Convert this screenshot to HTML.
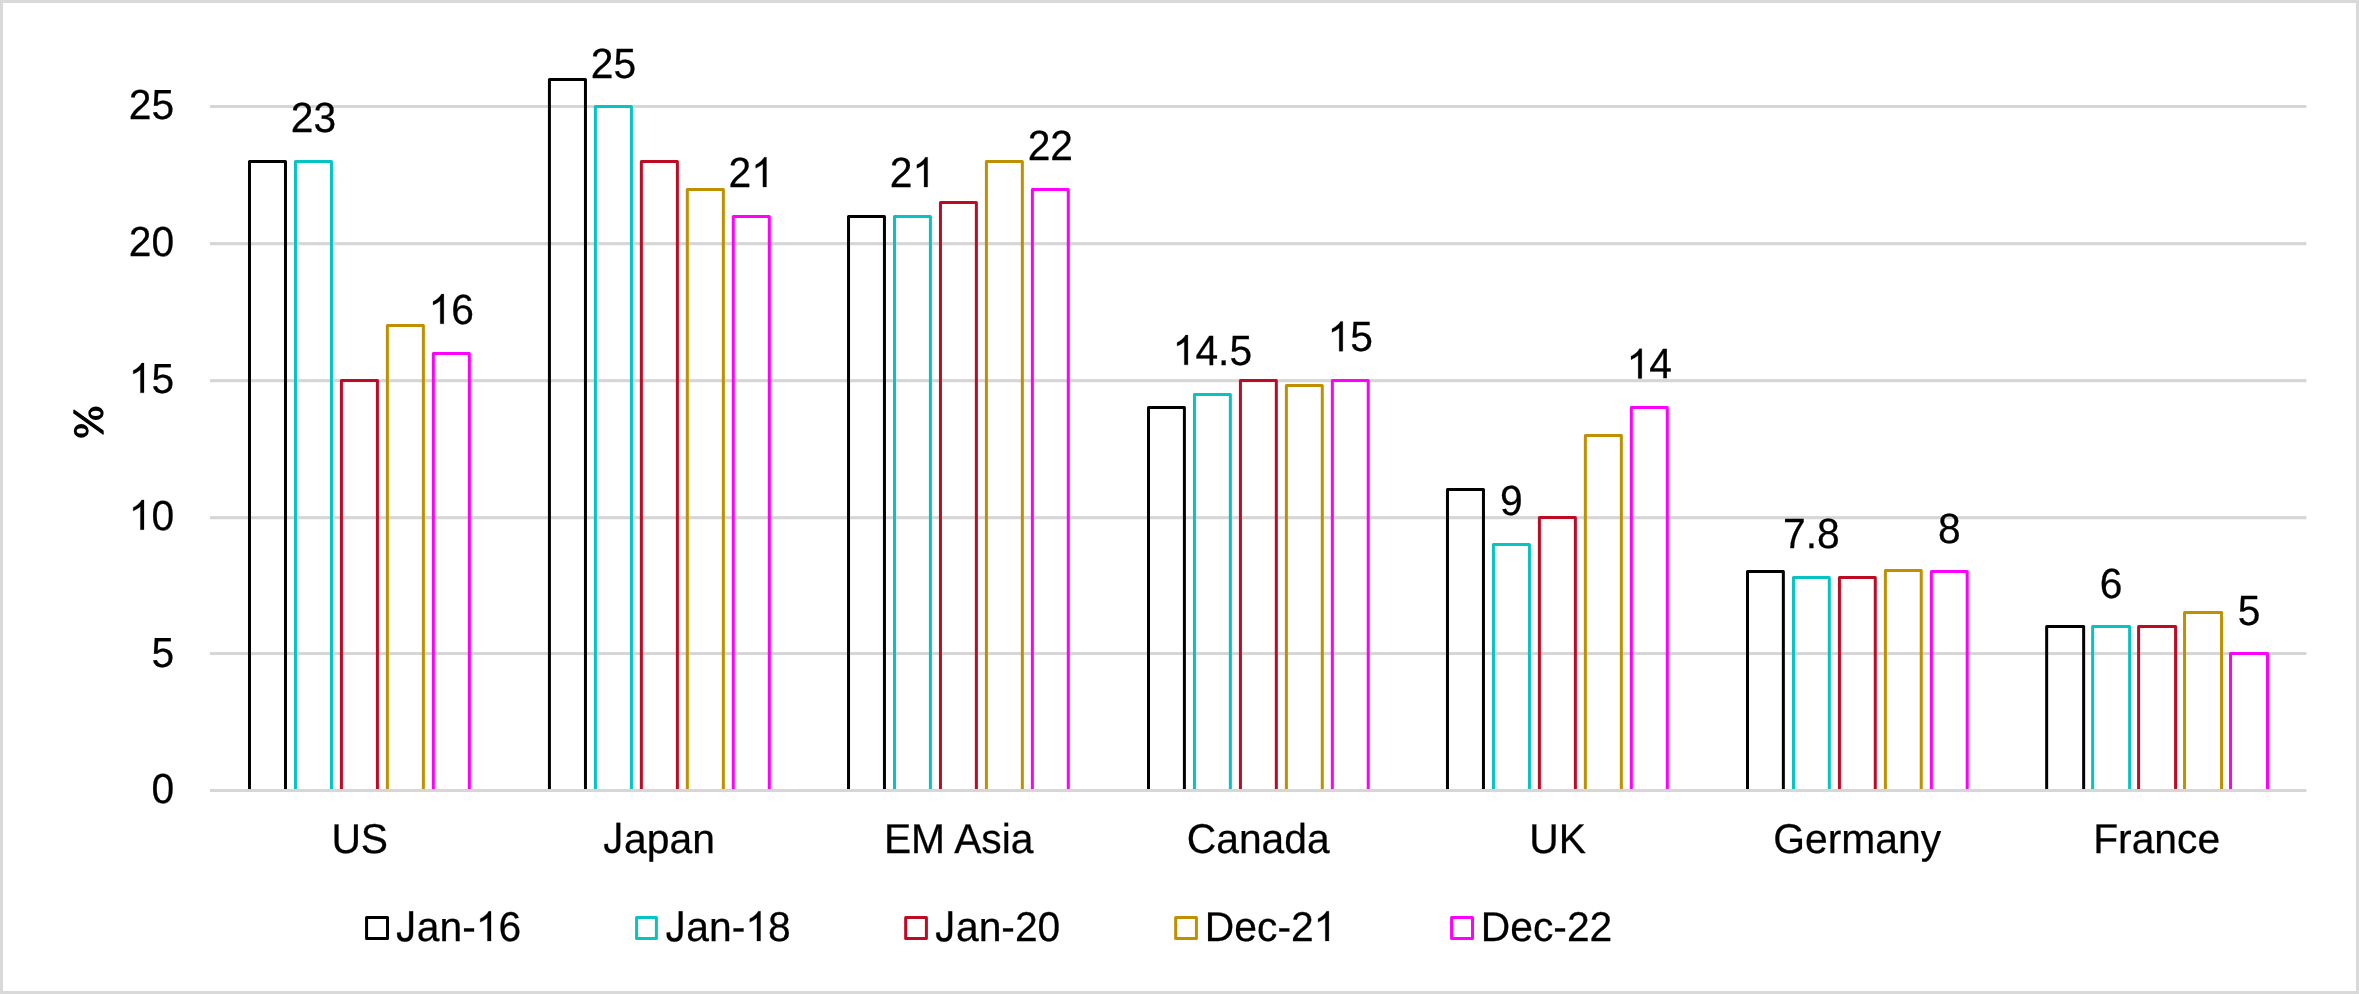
<!DOCTYPE html>
<html><head><meta charset="utf-8"><style>
html,body{margin:0;padding:0;background:#fff;}
body{width:2359px;height:994px;overflow:hidden;}
svg{display:block;will-change:transform;}
text .h{fill:none;stroke:none;}
text{font-family:"Liberation Sans",sans-serif;font-size:40.8px;fill:#000;stroke:#000;stroke-width:0.25px;text-rendering:geometricPrecision;}
</style></head><body>
<svg width="2359" height="994" viewBox="0 0 2359 994">
<rect x="0" y="0" width="2359" height="994" fill="#D9D9D9"/>
<rect x="3" y="3" width="2353" height="988" fill="#FFFFFF"/>
<rect x="210" y="105" width="2096.4" height="3" fill="#D6D6D6"/>
<rect x="210" y="242.1" width="2096.4" height="3.15" fill="#D6D6D6"/>
<rect x="210" y="379.1" width="2096.4" height="3.15" fill="#D6D6D6"/>
<rect x="210" y="516.1" width="2096.4" height="3.15" fill="#D6D6D6"/>
<rect x="210" y="652" width="2096.4" height="3.05" fill="#D6D6D6"/>
<path d="M249.49 790.4V161.5H285.49V790.4" fill="none" stroke="#000000" stroke-width="3" stroke-linejoin="round"/>
<path d="M295.45 790.4V161.5H331.45V790.4" fill="none" stroke="#06C4C4" stroke-width="3" stroke-linejoin="round"/>
<path d="M341.41 790.4V380.5H377.41V790.4" fill="none" stroke="#BE0A23" stroke-width="3" stroke-linejoin="round"/>
<path d="M387.37 790.4V325.5H423.37V790.4" fill="none" stroke="#BF9000" stroke-width="3" stroke-linejoin="round"/>
<path d="M433.33 790.4V353.5H469.33V790.4" fill="none" stroke="#FF00FF" stroke-width="3" stroke-linejoin="round"/>
<path d="M549.43 790.4V79.5H585.46V790.4" fill="none" stroke="#000000" stroke-width="3" stroke-linejoin="round"/>
<path d="M595.39 790.4V106.5H631.42V790.4" fill="none" stroke="#06C4C4" stroke-width="3" stroke-linejoin="round"/>
<path d="M641.35 790.4V161.5H677.38V790.4" fill="none" stroke="#BE0A23" stroke-width="3" stroke-linejoin="round"/>
<path d="M687.31 790.4V189.5H723.34V790.4" fill="none" stroke="#BF9000" stroke-width="3" stroke-linejoin="round"/>
<path d="M733.27 790.4V216.5H769.3V790.4" fill="none" stroke="#FF00FF" stroke-width="3" stroke-linejoin="round"/>
<path d="M848.53 790.4V216.5H884.45V790.4" fill="none" stroke="#000000" stroke-width="3" stroke-linejoin="round"/>
<path d="M894.49 790.4V216.5H930.41V790.4" fill="none" stroke="#06C4C4" stroke-width="3" stroke-linejoin="round"/>
<path d="M940.45 790.4V202.5H976.37V790.4" fill="none" stroke="#BE0A23" stroke-width="3" stroke-linejoin="round"/>
<path d="M986.41 790.4V161.5H1022.33V790.4" fill="none" stroke="#BF9000" stroke-width="3" stroke-linejoin="round"/>
<path d="M1032.37 790.4V189.5H1068.29V790.4" fill="none" stroke="#FF00FF" stroke-width="3" stroke-linejoin="round"/>
<path d="M1148.5 790.4V407.5H1184.4V790.4" fill="none" stroke="#000000" stroke-width="3" stroke-linejoin="round"/>
<path d="M1194.46 790.4V394.5H1230.36V790.4" fill="none" stroke="#06C4C4" stroke-width="3" stroke-linejoin="round"/>
<path d="M1240.42 790.4V380.5H1276.32V790.4" fill="none" stroke="#BE0A23" stroke-width="3" stroke-linejoin="round"/>
<path d="M1286.38 790.4V385.5H1322.28V790.4" fill="none" stroke="#BF9000" stroke-width="3" stroke-linejoin="round"/>
<path d="M1332.34 790.4V380.5H1368.24V790.4" fill="none" stroke="#FF00FF" stroke-width="3" stroke-linejoin="round"/>
<path d="M1447.47 790.4V489.5H1483.45V790.4" fill="none" stroke="#000000" stroke-width="3" stroke-linejoin="round"/>
<path d="M1493.43 790.4V544.5H1529.41V790.4" fill="none" stroke="#06C4C4" stroke-width="3" stroke-linejoin="round"/>
<path d="M1539.39 790.4V517.5H1575.37V790.4" fill="none" stroke="#BE0A23" stroke-width="3" stroke-linejoin="round"/>
<path d="M1585.35 790.4V435.5H1621.33V790.4" fill="none" stroke="#BF9000" stroke-width="3" stroke-linejoin="round"/>
<path d="M1631.31 790.4V407.5H1667.29V790.4" fill="none" stroke="#FF00FF" stroke-width="3" stroke-linejoin="round"/>
<path d="M1747.5 790.4V571.5H1783.35V790.4" fill="none" stroke="#000000" stroke-width="3" stroke-linejoin="round"/>
<path d="M1793.46 790.4V577.5H1829.31V790.4" fill="none" stroke="#06C4C4" stroke-width="3" stroke-linejoin="round"/>
<path d="M1839.42 790.4V577.5H1875.27V790.4" fill="none" stroke="#BE0A23" stroke-width="3" stroke-linejoin="round"/>
<path d="M1885.38 790.4V570.5H1921.23V790.4" fill="none" stroke="#BF9000" stroke-width="3" stroke-linejoin="round"/>
<path d="M1931.34 790.4V571.5H1967.19V790.4" fill="none" stroke="#FF00FF" stroke-width="3" stroke-linejoin="round"/>
<path d="M2046.67 790.4V626.5H2083.66V790.4" fill="none" stroke="#000000" stroke-width="3" stroke-linejoin="round"/>
<path d="M2092.63 790.4V626.5H2129.62V790.4" fill="none" stroke="#06C4C4" stroke-width="3" stroke-linejoin="round"/>
<path d="M2138.59 790.4V626.5H2175.58V790.4" fill="none" stroke="#BE0A23" stroke-width="3" stroke-linejoin="round"/>
<path d="M2184.55 790.4V612.5H2221.54V790.4" fill="none" stroke="#BF9000" stroke-width="3" stroke-linejoin="round"/>
<path d="M2230.51 790.4V653.5H2267.5V790.4" fill="none" stroke="#FF00FF" stroke-width="3" stroke-linejoin="round"/>
<rect x="210" y="789" width="2096.4" height="3" fill="#D6D6D6"/>
<text transform="translate(174.2 803.4) scale(1.0 1.03)" text-anchor="end">0</text>
<text transform="translate(174.2 666.55) scale(1.0 1.03)" text-anchor="end">5</text>
<text transform="translate(174.2 529.7) scale(1.0 1.03)" text-anchor="end"><tspan class="h">1</tspan>0</text><path transform="translate(128.79 529.7) scale(0.019922 -0.020221)" d="M763 0L583 0L583 1147Q518 1085 412 1023Q306 961 222 930L222 1104Q373 1175 486 1276Q599 1377 646 1472L763 1472Z" fill="#000" stroke="#000" stroke-width="0.25" vector-effect="non-scaling-stroke"/>
<text transform="translate(174.2 392.85) scale(1.0 1.03)" text-anchor="end"><tspan class="h">1</tspan>5</text><path transform="translate(128.79 392.85) scale(0.019922 -0.020221)" d="M763 0L583 0L583 1147Q518 1085 412 1023Q306 961 222 930L222 1104Q373 1175 486 1276Q599 1377 646 1472L763 1472Z" fill="#000" stroke="#000" stroke-width="0.25" vector-effect="non-scaling-stroke"/>
<text transform="translate(174.2 256) scale(1.0 1.03)" text-anchor="end">20</text>
<text transform="translate(174.2 119.15) scale(1.0 1.03)" text-anchor="end">25</text>
<text transform="translate(359.74 852.5) scale(1.0 1.02)" text-anchor="middle">US</text>
<text transform="translate(659.23 852.5) scale(1.0 1.02)" text-anchor="middle"><tspan class="h">J</tspan>apan</text><path transform="translate(603.64 852.5) scale(0.019922 -0.020221)" d="M31 408L205 432Q212 265 268 203Q324 141 423 141Q496 141 549 174.5Q602 208 622 265.5Q642 323 642 449L642 1466L835 1466L835 460Q835 275 790 173Q745 71 647.5 17.5Q550 -36 419 -36Q224 -36 120.5 76Q17 188 31 408Z" fill="#000" stroke="#000" stroke-width="0.25" vector-effect="non-scaling-stroke"/>
<text transform="translate(958.71 852.5) scale(1.0 1.02)" text-anchor="middle">EM Asia</text>
<text transform="translate(1258.2 852.5) scale(1.0 1.02)" text-anchor="middle">Canada</text>
<text transform="translate(1557.69 852.5) scale(1.0 1.02)" text-anchor="middle">UK</text>
<text transform="translate(1857.17 852.5) scale(1.0 1.02)" text-anchor="middle">Germany</text>
<text transform="translate(2156.66 852.5) scale(1.0 1.02)" text-anchor="middle">France</text>
<text transform="translate(313.45 132.39) scale(1.0 1.035)" text-anchor="middle">23</text>
<text transform="translate(451.33 323.82) scale(1.0 1.035)" text-anchor="middle"><tspan class="h">1</tspan>6</text><path transform="translate(428.63 323.82) scale(0.019922 -0.020221)" d="M763 0L583 0L583 1147Q518 1085 412 1023Q306 961 222 930L222 1104Q373 1175 486 1276Q599 1377 646 1472L763 1472Z" fill="#000" stroke="#000" stroke-width="0.25" vector-effect="non-scaling-stroke"/>
<text transform="translate(613.4 77.64) scale(1.0 1.035)" text-anchor="middle">25</text>
<text transform="translate(751.28 187.03) scale(1.0 1.035)" text-anchor="middle">2<tspan class="h">1</tspan></text><path transform="translate(751.28 187.03) scale(0.019922 -0.020221)" d="M763 0L583 0L583 1147Q518 1085 412 1023Q306 961 222 930L222 1104Q373 1175 486 1276Q599 1377 646 1472L763 1472Z" fill="#000" stroke="#000" stroke-width="0.25" vector-effect="non-scaling-stroke"/>
<text transform="translate(912.45 187.08) scale(1.0 1.035)" text-anchor="middle">2<tspan class="h">1</tspan></text><path transform="translate(912.45 187.08) scale(0.019922 -0.020221)" d="M763 0L583 0L583 1147Q518 1085 412 1023Q306 961 222 930L222 1104Q373 1175 486 1276Q599 1377 646 1472L763 1472Z" fill="#000" stroke="#000" stroke-width="0.25" vector-effect="non-scaling-stroke"/>
<text transform="translate(1050.33 159.73) scale(1.0 1.035)" text-anchor="middle">22</text>
<text transform="translate(1212.41 364.84) scale(1.0 1.035)" text-anchor="middle"><tspan class="h">1</tspan>4.5</text><path transform="translate(1172.7 364.84) scale(0.019922 -0.020221)" d="M763 0L583 0L583 1147Q518 1085 412 1023Q306 961 222 930L222 1104Q373 1175 486 1276Q599 1377 646 1472L763 1472Z" fill="#000" stroke="#000" stroke-width="0.25" vector-effect="non-scaling-stroke"/>
<text transform="translate(1350.29 351.17) scale(1.0 1.035)" text-anchor="middle"><tspan class="h">1</tspan>5</text><path transform="translate(1327.59 351.17) scale(0.019922 -0.020221)" d="M763 0L583 0L583 1147Q518 1085 412 1023Q306 961 222 930L222 1104Q373 1175 486 1276Q599 1377 646 1472L763 1472Z" fill="#000" stroke="#000" stroke-width="0.25" vector-effect="non-scaling-stroke"/>
<text transform="translate(1511.42 515.21) scale(1.0 1.035)" text-anchor="middle">9</text>
<text transform="translate(1649.3 378.47) scale(1.0 1.035)" text-anchor="middle"><tspan class="h">1</tspan>4</text><path transform="translate(1626.6 378.47) scale(0.019922 -0.020221)" d="M763 0L583 0L583 1147Q518 1085 412 1023Q306 961 222 930L222 1104Q373 1175 486 1276Q599 1377 646 1472L763 1472Z" fill="#000" stroke="#000" stroke-width="0.25" vector-effect="non-scaling-stroke"/>
<text transform="translate(1811.38 548.28) scale(1.0 1.035)" text-anchor="middle">7.8</text>
<text transform="translate(1949.26 542.81) scale(1.0 1.035)" text-anchor="middle">8</text>
<text transform="translate(2111.12 597.9) scale(1.0 1.035)" text-anchor="middle">6</text>
<text transform="translate(2249.01 625.25) scale(1.0 1.035)" text-anchor="middle">5</text>
<rect x="366.57" y="917.5" width="20.93" height="21" fill="none" stroke="#000000" stroke-width="3" stroke-linejoin="round"/>
<text transform="translate(396.45 941) scale(1.0 1.02)"><tspan class="h">J</tspan>an-<tspan class="h">1</tspan>6</text><path transform="translate(396.45 941) scale(0.019922 -0.020221)" d="M31 408L205 432Q212 265 268 203Q324 141 423 141Q496 141 549 174.5Q602 208 622 265.5Q642 323 642 449L642 1466L835 1466L835 460Q835 275 790 173Q745 71 647.5 17.5Q550 -36 419 -36Q224 -36 120.5 76Q17 188 31 408Z" fill="#000" stroke="#000" stroke-width="0.25" vector-effect="non-scaling-stroke"/><path transform="translate(475.82 941) scale(0.019922 -0.020221)" d="M763 0L583 0L583 1147Q518 1085 412 1023Q306 961 222 930L222 1104Q373 1175 486 1276Q599 1377 646 1472L763 1472Z" fill="#000" stroke="#000" stroke-width="0.25" vector-effect="non-scaling-stroke"/>
<rect x="636.57" y="917.5" width="19.83" height="21" fill="none" stroke="#06C4C4" stroke-width="3" stroke-linejoin="round"/>
<text transform="translate(665.95 941) scale(1.0 1.02)"><tspan class="h">J</tspan>an-<tspan class="h">1</tspan>8</text><path transform="translate(665.95 941) scale(0.019922 -0.020221)" d="M31 408L205 432Q212 265 268 203Q324 141 423 141Q496 141 549 174.5Q602 208 622 265.5Q642 323 642 449L642 1466L835 1466L835 460Q835 275 790 173Q745 71 647.5 17.5Q550 -36 419 -36Q224 -36 120.5 76Q17 188 31 408Z" fill="#000" stroke="#000" stroke-width="0.25" vector-effect="non-scaling-stroke"/><path transform="translate(745.33 941) scale(0.019922 -0.020221)" d="M763 0L583 0L583 1147Q518 1085 412 1023Q306 961 222 930L222 1104Q373 1175 486 1276Q599 1377 646 1472L763 1472Z" fill="#000" stroke="#000" stroke-width="0.25" vector-effect="non-scaling-stroke"/>
<rect x="905.67" y="917.5" width="20.73" height="21" fill="none" stroke="#BE0A23" stroke-width="3" stroke-linejoin="round"/>
<text transform="translate(935.55 941) scale(1.0 1.02)"><tspan class="h">J</tspan>an-20</text><path transform="translate(935.55 941) scale(0.019922 -0.020221)" d="M31 408L205 432Q212 265 268 203Q324 141 423 141Q496 141 549 174.5Q602 208 622 265.5Q642 323 642 449L642 1466L835 1466L835 460Q835 275 790 173Q745 71 647.5 17.5Q550 -36 419 -36Q224 -36 120.5 76Q17 188 31 408Z" fill="#000" stroke="#000" stroke-width="0.25" vector-effect="non-scaling-stroke"/>
<rect x="1175.67" y="917.5" width="20.73" height="21" fill="none" stroke="#BF9000" stroke-width="3" stroke-linejoin="round"/>
<text transform="translate(1204.85 941) scale(1.0 1.02)">Dec-2<tspan class="h">1</tspan></text><path transform="translate(1313.68 941) scale(0.019922 -0.020221)" d="M763 0L583 0L583 1147Q518 1085 412 1023Q306 961 222 930L222 1104Q373 1175 486 1276Q599 1377 646 1472L763 1472Z" fill="#000" stroke="#000" stroke-width="0.25" vector-effect="non-scaling-stroke"/>
<rect x="1451.57" y="917.5" width="20.93" height="21" fill="none" stroke="#FF00FF" stroke-width="3" stroke-linejoin="round"/>
<text transform="translate(1480.8 941) scale(1.0 1.02)">Dec-22</text>
<path d="M88.30 413.25a7.65 6.85 0 1 0 15.30 0a7.65 6.85 0 1 0 -15.30 0ZM90.92 413.30a4.83 2.62 0 1 0 9.66 0a4.83 2.62 0 1 0 -9.66 0ZM73.80 430.95a7.45 6.85 0 1 0 14.90 0a7.45 6.85 0 1 0 -14.90 0ZM76.67 430.90a4.63 2.70 0 1 0 9.26 0a4.63 2.70 0 1 0 -9.26 0Z" fill="#000" fill-rule="evenodd"/>
<path d="M74.1 410.3L102.9 430.9L103.1 434.0L73.9 413.0Z" fill="#000" stroke="#000" stroke-width="1.4" stroke-linejoin="round"/>
</svg>
</body></html>
